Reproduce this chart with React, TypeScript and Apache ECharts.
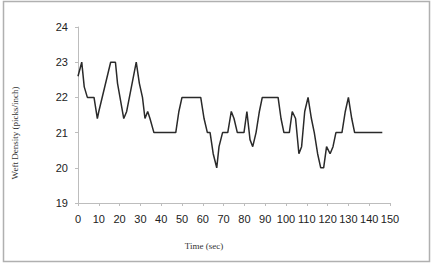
import React, { useEffect, useRef } from "react";
import * as echarts from "echarts";

const times = [0, 1.8, 3, 4.5, 7.7, 9.3, 10, 15.7, 18, 19, 22, 23.4, 28, 29.5, 31, 32.2, 33.5, 34.6, 36.5, 47, 48.5, 50, 59, 60.6, 62.2, 63.5, 65, 66.7, 67.8, 69.5, 72, 73.7, 75, 76.6, 79.8, 81.2, 82.7, 84, 85.6, 87.2, 88.6, 96.2, 97.6, 99, 101.6, 103, 104.6, 106.2, 107.5, 109, 110.6, 112.2, 113.6, 115.2, 116.7, 118.1, 119.5, 121.2, 122.6, 124, 126.9, 128.5, 130, 131.6, 133, 146.3];
const density = [22.6, 23, 22.3, 22, 22, 21.4, 21.6, 23, 23, 22.4, 21.4, 21.6, 23, 22.4, 22, 21.4, 21.6, 21.4, 21, 21, 21.6, 22, 22, 21.4, 21, 21, 20.4, 20, 20.6, 21, 21, 21.6, 21.4, 21, 21, 21.6, 20.8, 20.6, 21, 21.6, 22, 22, 21.4, 21, 21, 21.6, 21.4, 20.4, 20.6, 21.6, 22, 21.4, 21, 20.4, 20, 20, 20.6, 20.4, 20.6, 21, 21, 21.6, 22, 21.4, 21, 21];

const xTitle = "Time (sec)";
const yTitle = "Weft Density (picks/inch)";

export default function App() {
  const ref = useRef<HTMLDivElement>(null);
  useEffect(() => {
    if (!ref.current) return;
    const chart = echarts.init(ref.current, null, { renderer: "svg" });
    const data = times.map((t, i) => [t, density[i]]);
    chart.setOption({
      animation: false,
      backgroundColor: "#ffffff",
      grid: { left: 78, right: 46, top: 27, bottom: 61, containLabel: false },
      graphic: [
        {
          type: "rect",
          shape: { x: 3.5, y: 1.5, width: 426, height: 260 },
          style: { fill: "none", stroke: "#b0b0b0", lineWidth: 1.5 },
          silent: true,
        },
        {
          type: "text",
          x: 204,
          y: 246,
          style: {
            text: xTitle,
            font: "9px 'Liberation Serif', 'DejaVu Serif', serif",
            fill: "#333",
            align: "center",
            verticalAlign: "middle",
          },
        },
        {
          type: "text",
          x: 15,
          y: 133,
          rotation: Math.PI / 2,
          style: {
            text: yTitle,
            font: "9px 'Liberation Serif', 'DejaVu Serif', serif",
            fill: "#333",
            align: "center",
            verticalAlign: "middle",
          },
        },
      ],
      xAxis: {
        type: "value",
        min: 0,
        max: 150,
        interval: 10,
        axisLine: { show: true, lineStyle: { color: "#bdbdbd", width: 1 } },
        axisTick: { show: true, length: 3, lineStyle: { color: "#bdbdbd" } },
        splitLine: { show: false },
        axisLabel: {
          color: "#222",
          fontSize: 11,
          fontFamily: "'Liberation Sans', Arial, sans-serif",
          margin: 10,
        },
      },
      yAxis: {
        type: "value",
        min: 19,
        max: 24,
        interval: 1,
        axisLine: { show: true, lineStyle: { color: "#bdbdbd", width: 1 } },
        axisTick: { show: true, length: 3, lineStyle: { color: "#bdbdbd" } },
        splitLine: { show: false },
        axisLabel: {
          color: "#222",
          fontSize: 11,
          fontFamily: "'Liberation Sans', Arial, sans-serif",
          margin: 10,
        },
      },
      series: [
        {
          type: "line",
          data,
          showSymbol: false,
          symbol: "none",
          lineStyle: { color: "#2a2a2a", width: 1.5 },
        },
      ],
    });
    return () => chart.dispose();
  }, []);
  return (
    <div
      ref={ref}
      style={{ position: "fixed", left: 0, top: 0, width: 436, height: 264 }}
    />
  );
}
